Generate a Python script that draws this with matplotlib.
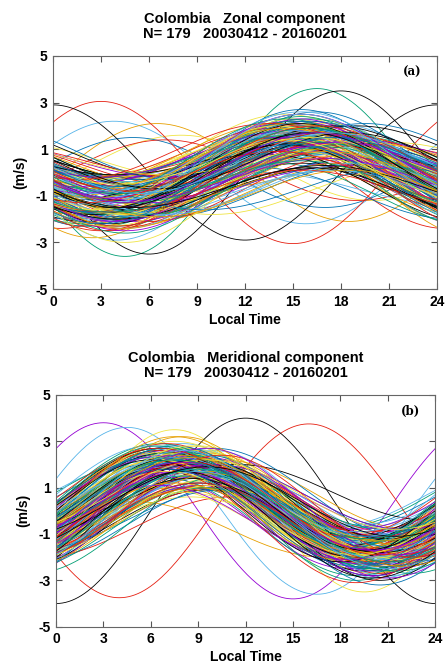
import numpy as np
import matplotlib
matplotlib.use("Agg")
import matplotlib.pyplot as plt

plt.rcParams['font.family'] = ['Liberation Sans', 'DejaVu Sans']
plt.rcParams['axes.unicode_minus'] = False

# diurnal fits per day: amplitude (m/s), local time of maximum (h), daily mean (m/s)
# colour order follows gnuplot default line types
colors = ["#9400d3", "#009e73", "#56b4e9", "#e69f00",
          "#f0e442", "#0072b2", "#e51e10", "#000000"]

zonal_amp = [
    1.2, 3.6, 2.2, 2.1, 1.4, 1.5, 3.05, 3.5,
    1.8, 1.0, 1.3, 1.6, 2.0, 1.1, 1.3, 2.9,
    0.9, 1.7, 1.9, 1.2, 0.8, 1.5, 2.0, 1.0,
    1.4, 1.1, 0.7, 1.8, 1.6, 1.3, 0.9, 1.2,
    2.0, 1.3, 1.5, 0.6, 1.2, 1.9, 1.6, 0.8,
    1.1, 2.1, 1.0, 1.4, 2.3, 0.9, 1.2, 1.5,
    1.6, 0.8, 2.4, 1.1, 1.0, 1.7, 1.4, 1.3,
    0.7, 1.5, 1.2, 2.2, 1.8, 1.1, 0.8, 1.9,
    1.3, 1.9, 0.9, 1.0, 1.5, 2.1, 1.7, 0.9,
    1.9, 1.2, 1.6, 1.5, 0.9, 1.4, 2.2, 1.1,
    1.0, 1.6, 1.4, 0.8, 2.1, 1.0, 1.1, 1.6,
    1.5, 1.0, 1.8, 1.9, 1.3, 1.6, 0.7, 1.4,
    2.2, 1.4, 1.1, 1.3, 1.7, 0.8, 1.5, 1.0,
    0.8, 2.0, 1.5, 1.6, 1.1, 1.8, 1.3, 1.7,
    1.7, 1.1, 0.8, 2.0, 1.4, 1.2, 1.9, 0.7,
    1.2, 1.8, 1.7, 0.9, 1.9, 1.5, 1.0, 1.3,
    1.4, 0.9, 2.0, 1.2, 1.6, 1.1, 1.8, 1.5,
    1.0, 1.5, 1.3, 1.7, 0.7, 2.0, 1.2, 1.1,
    1.6, 1.3, 1.0, 1.4, 1.8, 0.9, 1.6, 1.8,
    1.3, 1.7, 1.6, 1.1, 1.2, 1.4, 0.9, 1.2,
    1.8, 1.2, 1.1, 1.5, 1.0, 1.7, 1.4, 0.9,
    0.9, 1.4, 1.9, 1.0, 1.5, 1.2, 1.1, 1.6,
    1.5, 1.1, 1.3,
]
zonal_tmax = [
    15.5, 16.5, 3.8, 6.5, 8.0, 5.0, 3.0, 18.0,
    14.0, 17.0, 20.0, 15.5, 13.5, 19.0, 7.0, 0.0,
    16.5, 15.0, 14.5, 18.0, 21.0, 16.0, 12.5, 17.0,
    15.0, 18.5, 13.0, 16.5, 14.5, 17.5, 19.5, 15.5,
    16.0, 14.0, 17.5, 20.5, 15.0, 16.5, 13.5, 18.0,
    17.5, 15.5, 16.0, 13.5, 15.0, 19.0, 16.5, 14.0,
    14.5, 17.0, 16.0, 15.0, 22.0, 15.5, 18.0, 16.5,
    18.5, 16.0, 15.0, 14.5, 17.0, 13.0, 15.5, 16.0,
    15.0, 14.0, 17.5, 19.5, 16.5, 15.5, 14.5, 17.0,
    16.0, 18.0, 15.0, 17.0, 14.0, 16.5, 15.5, 19.0,
    13.5, 16.0, 17.0, 15.5, 16.5, 18.5, 14.0, 15.0,
    17.0, 15.5, 14.0, 16.0, 18.0, 15.0, 20.0, 16.5,
    15.5, 17.5, 16.5, 14.0, 15.0, 17.0, 16.0, 13.0,
    19.0, 15.0, 16.0, 17.5, 14.5, 16.0, 18.5, 15.5,
    16.5, 14.5, 18.0, 15.5, 17.0, 19.5, 15.0, 16.0,
    14.0, 16.5, 15.5, 18.0, 16.0, 14.5, 17.0, 17.5,
    17.5, 15.0, 16.5, 13.5, 15.5, 18.0, 16.0, 14.5,
    15.0, 18.0, 14.5, 16.5, 19.0, 15.5, 13.5, 16.0,
    16.0, 16.5, 17.5, 15.0, 14.0, 21.5, 17.0, 15.5,
    18.0, 14.5, 15.0, 17.0, 16.5, 16.0, 15.5, 18.5,
    15.5, 17.0, 19.0, 14.5, 16.0, 15.0, 16.5, 17.0,
    17.0, 16.0, 15.5, 18.5, 14.5, 17.5, 14.0, 16.0,
    16.5, 15.5, 17.5,
]
zonal_mean = [
    0.3, 0.0, 0.0, 0.0, 0.2, 0.0, 0.0, 0.0,
    -0.5, 0.6, -0.3, 0.4, -0.2, -0.8, 0.1, 0.0,
    0.7, -0.6, 0.2, -0.9, 0.5, 0.3, -0.4, 0.8,
    -0.3, 0.5, -0.7, 0.1, 0.9, -0.5, 0.4, -0.8,
    0.2, -0.9, 0.6, -0.2, -0.6, 0.7, -0.1, 0.5,
    -0.7, 0.3, 0.8, -0.4, 0.0, -0.3, 0.6, -0.6,
    0.5, -0.2, -0.5, 0.9, -0.8, 0.2, -0.7, 0.4,
    -0.4, 0.8, 0.1, -0.6, 0.3, -0.9, 0.7, -0.1,
    0.9, -0.4, -0.8, 0.3, -0.5, 0.6, 0.0, -0.7,
    -0.2, 0.1, 0.5, -0.8, 0.7, -0.6, -0.3, 0.9,
    0.4, -0.7, 0.3, 0.6, -0.9, 0.1, 0.8, -0.4,
    -0.6, 0.9, -0.2, -0.1, 0.4, -0.4, 0.5, 0.2,
    0.1, -0.5, 0.7, 0.8, -0.3, 0.5, -0.9, -0.2,
    0.6, 0.2, -0.6, -0.3, 0.8, -0.1, 0.3, -0.5,
    -0.8, 0.4, 0.0, 0.5, -0.4, 0.9, -0.6, 0.6,
    0.3, -0.8, 0.9, -0.5, 0.1, -0.2, 0.2, 0.7,
    -0.1, 0.7, -0.4, 0.2, -0.7, 0.4, -0.5, -0.3,
    0.8, -0.3, 0.4, -0.7, 0.6, 0.0, 0.9, -0.9,
    -0.5, 0.0, -0.9, 0.7, 0.2, -0.7, 0.1, 0.3,
    0.0, 0.6, 0.2, -0.2, -0.6, 0.8, -0.8, 0.5,
    0.7, -0.1, -0.7, 0.4, 0.5, -0.5, 0.6, -0.6,
    -0.3, 0.5, 0.6, -0.9, -0.1, 0.3, -0.2, 0.1,
    0.2, -0.6, 0.4,
]

merid_amp = [
    3.8, 2.4, 3.6, 2.3, 3.5, 2.0, 3.75, 4.0,
    1.8, 2.6, 1.4, 2.4, 2.1, 1.6, 2.3, 1.9,
    2.2, 1.5, 2.0, 1.7, 2.5, 2.4, 1.3, 2.1,
    1.6, 2.3, 2.5, 1.2, 1.8, 2.1, 1.9, 1.5,
    2.0, 1.8, 1.5, 2.4, 2.2, 1.4, 2.5, 1.7,
    1.3, 2.1, 1.9, 2.0, 1.5, 2.6, 1.6, 2.3,
    2.5, 1.4, 2.2, 1.6, 2.4, 1.8, 2.0, 1.2,
    1.9, 2.5, 1.7, 2.3, 1.3, 2.2, 1.5, 2.0,
    1.7, 2.0, 2.4, 1.5, 1.9, 1.6, 2.2, 2.4,
    2.3, 1.6, 1.2, 2.1, 2.5, 1.9, 1.8, 1.6,
    1.5, 2.2, 2.1, 1.8, 1.7, 2.3, 1.4, 2.2,
    2.1, 1.7, 1.6, 2.6, 2.0, 1.5, 2.1, 1.8,
    1.8, 2.4, 2.3, 1.4, 2.2, 2.0, 1.7, 2.5,
    2.4, 1.3, 1.8, 2.2, 1.6, 2.5, 2.3, 1.4,
    1.6, 2.1, 1.5, 1.9, 2.3, 1.7, 2.0, 2.1,
    2.2, 1.9, 2.1, 1.6, 1.4, 2.2, 1.6, 1.9,
    1.9, 1.6, 1.8, 2.4, 2.1, 1.3, 2.4, 1.7,
    1.4, 2.3, 2.2, 1.7, 1.9, 2.1, 1.5, 2.2,
    2.0, 1.8, 1.4, 2.1, 1.6, 2.4, 1.9, 1.6,
    1.7, 2.2, 2.0, 1.5, 2.4, 1.8, 2.2, 2.0,
    2.3, 1.5, 1.7, 2.0, 1.8, 1.6, 1.7, 2.3,
    1.6, 2.0, 2.3, 1.8, 1.5, 2.1, 2.0, 1.5,
    1.9, 1.7, 2.1,
]
merid_tmax = [
    3.0, 6.5, 4.5, 7.0, 7.5, 8.0, 16.0, 12.0,
    8.5, 7.0, 5.5, 9.0, 6.0, 10.5, 7.5, 8.0,
    9.5, 6.0, 8.0, 7.0, 8.5, 9.0, 11.0, 6.5,
    7.5, 8.5, 10.0, 5.0, 9.0, 7.0, 8.0, 9.5,
    6.5, 9.0, 7.5, 8.0, 10.0, 6.0, 8.5, 7.0,
    10.5, 7.0, 8.5, 9.5, 6.5, 8.0, 9.0, 7.5,
    8.0, 10.0, 6.5, 7.5, 9.0, 8.5, 7.0, 11.5,
    7.0, 8.0, 9.5, 6.0, 8.5, 7.5, 10.0, 8.5,
    9.0, 7.5, 8.0, 10.5, 7.0, 9.5, 6.5, 8.0,
    6.0, 9.5, 7.0, 8.5, 8.0, 10.0, 9.0, 7.5,
    8.5, 6.5, 9.0, 7.0, 9.5, 8.0, 7.5, 10.0,
    7.5, 8.5, 10.5, 8.0, 6.5, 9.0, 8.0, 7.0,
    9.5, 7.0, 8.5, 9.0, 7.5, 6.0, 10.0, 8.5,
    8.0, 9.0, 7.5, 6.5, 10.0, 8.5, 7.0, 9.5,
    7.0, 10.5, 8.0, 8.5, 9.0, 7.5, 8.0, 6.5,
    9.0, 7.5, 6.0, 10.0, 8.0, 9.5, 8.5, 7.0,
    8.5, 8.0, 9.5, 7.5, 6.5, 10.5, 7.0, 9.0,
    10.0, 7.0, 8.5, 9.0, 8.0, 7.5, 9.5, 6.0,
    7.5, 9.5, 7.0, 8.0, 10.0, 8.5, 6.5, 8.5,
    8.0, 6.5, 9.0, 7.5, 8.5, 9.0, 10.5, 7.5,
    9.5, 8.5, 7.5, 10.0, 7.0, 8.0, 9.0, 8.0,
    6.5, 9.0, 8.0, 8.5, 9.5, 7.0, 8.5, 9.5,
    8.0, 7.5, 9.0,
]
merid_mean = [
    0.0, 0.3, 0.0, 0.2, 0.0, 0.4, 0.0, 0.0,
    0.5, -0.4, 0.7, -0.2, 0.3, -0.6, 0.1, 0.6,
    -0.3, 0.8, -0.5, 0.4, -0.1, 0.2, -0.7, 0.5,
    0.6, -0.2, 0.1, -0.8, 0.7, -0.4, 0.3, -0.6,
    -0.5, 0.4, 0.8, -0.3, 0.0, 0.6, -0.2, 0.2,
    0.3, -0.7, -0.1, 0.5, -0.5, 0.1, 0.7, -0.3,
    -0.1, 0.6, 0.3, -0.6, 0.4, -0.8, 0.0, 0.8,
    0.7, 0.0, -0.4, 0.2, -0.7, 0.5, -0.5, 0.3,
    -0.6, 0.2, 0.5, 0.7, -0.3, -0.1, 0.4, -0.4,
    0.1, -0.5, 0.6, -0.1, 0.2, 0.8, -0.6, 0.4,
    0.4, 0.7, -0.7, 0.3, -0.4, 0.0, 0.5, -0.2,
    -0.2, -0.3, 0.2, 0.6, 0.5, -0.5, -0.1, 0.7,
    0.5, 0.1, -0.6, -0.4, 0.8, 0.3, 0.2, -0.5,
    -0.4, 0.5, 0.4, 0.0, -0.2, -0.7, 0.6, 0.1,
    0.8, -0.6, 0.0, -0.5, 0.3, 0.4, -0.3, 0.6,
    -0.7, 0.3, 0.7, 0.1, -0.6, 0.2, 0.5, -0.1,
    0.2, -0.1, -0.3, 0.8, 0.1, -0.4, -0.7, 0.5,
    0.6, 0.4, 0.1, -0.7, 0.6, 0.7, -0.4, 0.0,
    -0.3, -0.8, 0.5, 0.3, -0.5, 0.1, 0.8, -0.2,
    0.0, 0.6, -0.2, -0.3, 0.4, -0.6, 0.2, 0.3,
    0.4, 0.2, 0.6, -0.4, -0.1, 0.5, -0.5, -0.6,
    -0.5, -0.2, 0.3, 0.5, 0.7, -0.3, 0.1, 0.4,
    0.2, 0.5, -0.4,
]

panels = [
    ("Colombia   Zonal component", zonal_amp, zonal_tmax, zonal_mean, "(a)",
     [0.119, 0.566, 0.863, 0.350]),
    ("Colombia   Meridional component", merid_amp, merid_tmax, merid_mean, "(b)",
     [0.126, 0.059, 0.852, 0.348]),
]

t = np.linspace(0, 24, 241)
fig = plt.figure(figsize=(4.45, 6.66), dpi=100)

for title, amp, tmax, mean, tag, rect in panels:
    ax = fig.add_axes(rect)
    for i in range(len(amp)):
        y = mean[i] + amp[i] * np.cos(2 * np.pi * (t - tmax[i]) / 24.0)
        ax.plot(t, y, color=colors[i % len(colors)], lw=0.6)
    ax.set_xlim(0, 24)
    ax.set_ylim(-5, 5)
    ax.set_xticks(range(0, 25, 3))
    ax.set_yticks([-5, -3, -1, 1, 3, 5])
    ax.tick_params(direction="in", top=True, right=True, length=4,
                   color="#555555", labelsize=10, pad=4)
    for lab in ax.get_xticklabels() + ax.get_yticklabels():
        lab.set_fontweight("bold")
    for sp in ax.spines.values():
        sp.set_color("#666666")
    ax.set_title(title + "\nN= 179   20030412 - 20160201",
                 fontsize=10.5, fontweight="bold", pad=13, linespacing=1.1)
    ax.set_xlabel("Local Time", fontsize=10, fontweight="bold", labelpad=3)
    ax.set_ylabel("(m/s)", fontsize=10, fontweight="bold", labelpad=6)
    ax.text(0.935, 0.93, tag, transform=ax.transAxes, family="DejaVu Serif",
            fontweight="bold", fontsize=8.5, ha="center", va="center")

fig.savefig("out.png", dpi=100)
